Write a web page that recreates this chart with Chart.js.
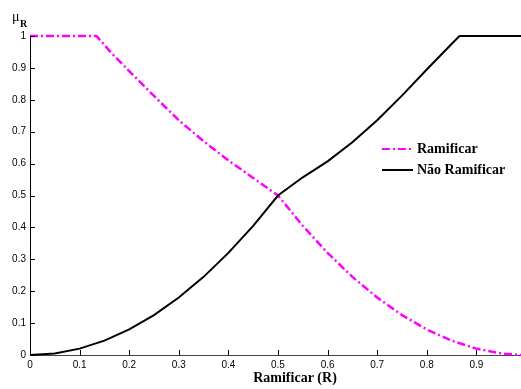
<!DOCTYPE html>
<html>
<head>
<meta charset="utf-8">
<script src="https://cdn.jsdelivr.net/npm/chart.js@4/dist/chart.umd.min.js"></script>
<style>
  html, body { margin: 0; padding: 0; background: #fff; }
  #wrap { width: 521px; height: 389px; }
</style>
</head>
<body>
<div id="wrap"><canvas id="chart" width="521" height="389"></canvas></div>
<script>
// Dados
const ramX = [0, 0.05, 0.1, 0.134, 0.164, 0.2, 0.232, 0.25, 0.3, 0.35, 0.4, 0.45, 0.5,
              0.55, 0.6, 0.65, 0.7, 0.75, 0.8, 0.85, 0.9, 0.95, 0.99];
const ramY = [1, 1, 1, 1, 0.947, 0.89, 0.84, 0.812, 0.736, 0.67, 0.61, 0.555, 0.5,
              0.405, 0.32, 0.245, 0.18, 0.125, 0.08, 0.045, 0.02, 0.005, 0];

const naoX = [0, 0.05, 0.1, 0.15, 0.2, 0.25, 0.3, 0.35, 0.4, 0.45, 0.5,
              0.55, 0.6, 0.65, 0.7, 0.75, 0.8, 0.85, 0.866, 0.9, 0.99];
const naoY = [0, 0.005, 0.02, 0.045, 0.08, 0.125, 0.18, 0.245, 0.32, 0.405, 0.5,
              0.557, 0.607, 0.667, 0.736, 0.813, 0.895, 0.975, 1, 1, 1];

const xTicks = [0, 0.1, 0.2, 0.3, 0.4, 0.5, 0.6, 0.7, 0.8, 0.9];
const yTicks = [0, 0.1, 0.2, 0.3, 0.4, 0.5, 0.6, 0.7, 0.8, 0.9, 1];

const seriesNames = ['Ramificar', 'Não Ramificar'];
const xTitle = 'Ramificar (R)';

const MAGENTA = '#ff00ff';
const DASHDOT = [8, 3, 2, 3];

const toPoints = (xs, ys) => xs.map((x, i) => ({ x: x, y: ys[i] }));

// Marcas dos eixos para dentro, legenda e rótulos
const extras = {
    id: 'extras',
    afterDraw(chart) {
        const ctx = chart.ctx;
        const xs = chart.scales.x;
        const ys = chart.scales.y;
        const area = chart.chartArea;
        ctx.save();
        ctx.strokeStyle = '#000';
        ctx.lineWidth = 1;
        ctx.beginPath();
        yTicks.forEach(v => {
            const py = Math.round(ys.getPixelForValue(v)) + 0.5;
            ctx.moveTo(area.left, py);
            ctx.lineTo(area.left + 5, py);
        });
        xTicks.forEach(v => {
            const px = Math.round(xs.getPixelForValue(v)) + 0.5;
            ctx.moveTo(px, area.bottom);
            ctx.lineTo(px, area.bottom - 5);
        });
        ctx.stroke();

        // legenda
        const lx = 382, lw = 31, tx = 417;
        const rows = [149, 170];
        ctx.lineWidth = 2;
        ctx.strokeStyle = MAGENTA;
        ctx.setLineDash(DASHDOT);
        ctx.beginPath();
        ctx.moveTo(lx, rows[0]);
        ctx.lineTo(lx + lw, rows[0]);
        ctx.stroke();
        ctx.setLineDash([]);
        ctx.strokeStyle = '#000';
        ctx.beginPath();
        ctx.moveTo(lx, rows[1]);
        ctx.lineTo(lx + lw, rows[1]);
        ctx.stroke();
        ctx.fillStyle = '#000';
        ctx.font = 'bold 14px "Liberation Serif", serif';
        ctx.textBaseline = 'middle';
        ctx.textAlign = 'left';
        ctx.fillText(seriesNames[0], tx, rows[0]);
        ctx.fillText(seriesNames[1], tx, rows[1]);

        // título do eixo x
        ctx.textAlign = 'center';
        ctx.fillText(xTitle, 295, 378);

        // rótulo do eixo y: mu_R
        ctx.textAlign = 'left';
        ctx.font = '14px "Liberation Serif", serif';
        ctx.fillText('μ', 12, 17);
        ctx.font = 'bold 10px "Liberation Serif", serif';
        ctx.fillText('R', 20, 24);
        ctx.restore();
    }
};

const ctx = document.getElementById('chart').getContext('2d');
const chart = new Chart(ctx, {
    type: 'scatter',
    data: {
        datasets: [
            {
                label: seriesNames[1],
                data: toPoints(naoX, naoY),
                showLine: true,
                borderColor: '#000',
                borderWidth: 2,
                pointRadius: 0,
                tension: 0,
                clip: 4,
                order: 0
            },
            {
                label: seriesNames[0],
                data: toPoints(ramX, ramY),
                showLine: true,
                borderColor: MAGENTA,
                borderWidth: 2.5,
                borderDash: DASHDOT,
                pointRadius: 0,
                tension: 0,
                clip: 4,
                order: 1
            }
        ]
    },
    options: {
        responsive: false,
        animation: false,
        layout: { padding: { top: 36, right: 0, left: 0, bottom: 0 } },
        plugins: {
            legend: { display: false },
            tooltip: { enabled: false }
        },
        scales: {
            x: {
                type: 'linear',
                min: 0,
                max: 0.99,
                afterBuildTicks: (s) => { s.ticks = xTicks.map(v => ({ value: v })); },
                afterFit: (s) => { s.height = 34; },
                grid: { display: false, drawTicks: false },
                border: { display: true, color: '#444', width: 1 },
                ticks: {
                    color: '#000',
                    padding: 4,
                    maxRotation: 0,
                    font: { family: '"Liberation Sans", Arial, sans-serif', size: 10 },
                    callback: (v) => String(v)
                }
            },
            y: {
                type: 'linear',
                min: 0,
                max: 1,
                afterBuildTicks: (s) => { s.ticks = yTicks.map(v => ({ value: v })); },
                afterFit: (s) => { s.width = 30; },
                grid: { display: false, drawTicks: false },
                border: { display: true, color: '#000', width: 1 },
                ticks: {
                    color: '#000',
                    padding: 4,
                    font: { family: '"Liberation Sans", Arial, sans-serif', size: 10 },
                    callback: (v) => String(v)
                }
            }
        }
    },
    plugins: [extras]
});
</script>
</body>
</html>
